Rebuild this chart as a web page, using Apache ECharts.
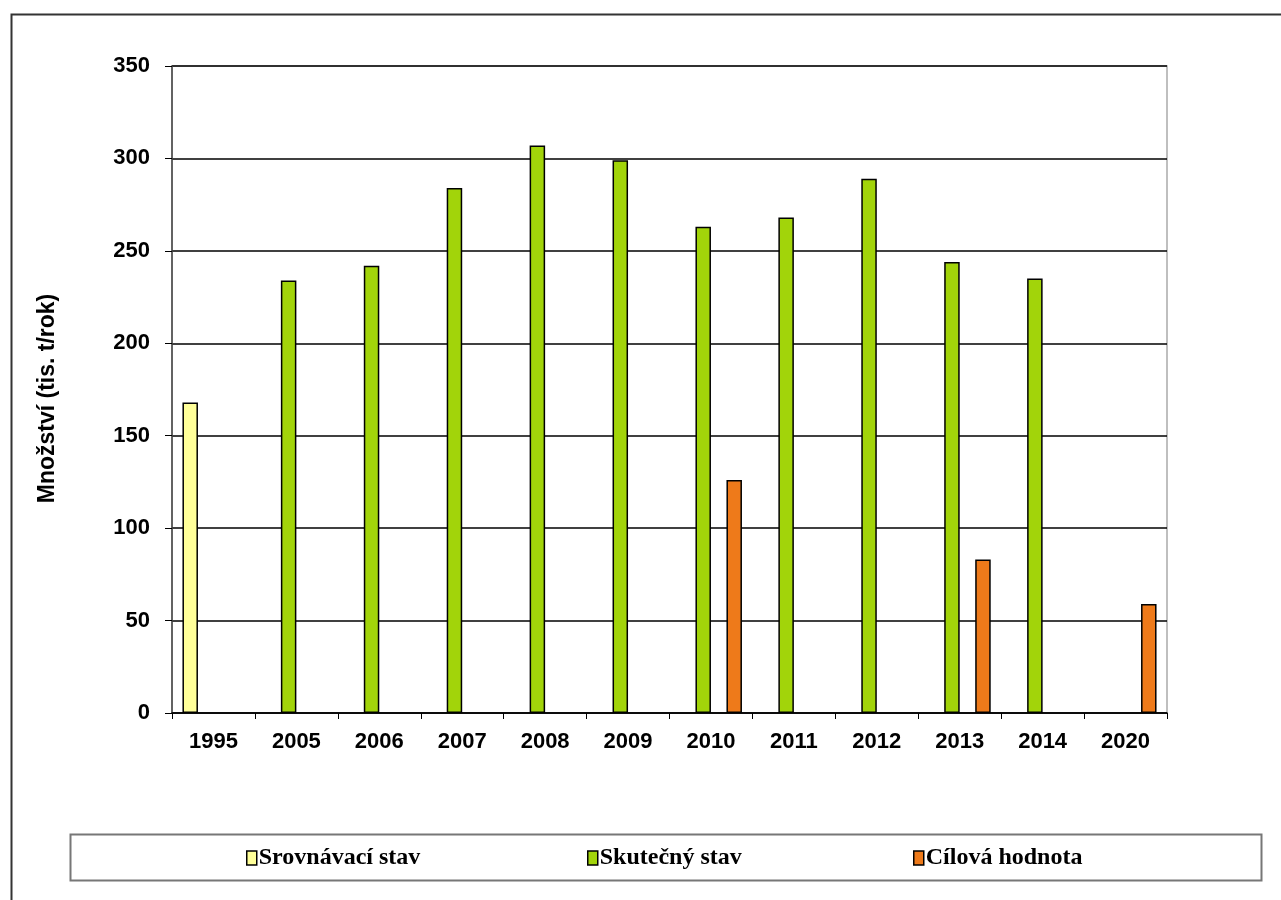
<!DOCTYPE html>
<html>
<head>
<meta charset="utf-8">
<script src="https://cdn.jsdelivr.net/npm/echarts@6/dist/echarts.min.js"></script>
<style>
html,body{margin:0;padding:0;background:#fff;}
#main{width:1281px;height:900px;}
</style>
</head>
<body>
<div id="main"></div>
<script>
const categories = ['1995','2005','2006','2007','2008','2009','2010','2011','2012','2013','2014','2020'];
const srovnavaci = [168,'-','-','-','-','-','-','-','-','-','-','-'];
const skutecny = ['-',234,242,284,307,299,263,268,289,244,235,'-'];
const prazdna = ['-','-','-','-','-','-','-','-','-','-','-','-'];
const cilova = ['-','-','-','-','-','-',126,'-','-',83,'-',59];
const yTicks = [0,50,100,150,200,250,300,350];

const chart = echarts.init(document.getElementById('main'), null, {renderer:'canvas'});
const barBorder = {borderColor:'#000', borderWidth:1.5};
const legendText = {fontFamily:'Liberation Serif', fontWeight:'bold', fontSize:24, color:'#000'};
function lg(name, left){
  return {data:[name], left:left, top:841, itemWidth:10, itemHeight:14, itemGap:0,
    icon:'rect', textStyle:Object.assign({padding:[0,0,0,-3]}, legendText), selectedMode:false,
    itemStyle:{borderColor:'#000', borderWidth:1.5}};
}
chart.setOption({
  animation:false,
  backgroundColor:'#fff',
  grid:{left:172, right:114, top:66, bottom:187, show:true, borderColor:'#aaa', borderWidth:1.5, backgroundColor:'transparent'},
  legend:[lg('Srovnávací stav',241), lg('Skutečný stav',582), lg('Cílová hodnota',908)],
  xAxis:{
    type:'category', data:categories, boundaryGap:true,
    axisLine:{lineStyle:{color:'#000', width:1.5}},
    axisTick:{show:true, alignWithLabel:false, length:6, lineStyle:{color:'#000', width:1}},
    axisLabel:{color:'#000', fontFamily:'Liberation Sans', fontWeight:'bold', fontSize:22, margin:18}
  },
  yAxis:{
    type:'value', min:0, max:350, interval:50,
    name:'Množství (tis. t/rok)', nameLocation:'middle', nameGap:113, nameRotate:90,
    nameTextStyle:{color:'#000', fontFamily:'Liberation Sans', fontWeight:'bold', fontSize:23, padding:[0,18,0,0]},
    axisLine:{show:true, lineStyle:{color:'#444', width:1.5}},
    axisTick:{show:true, length:7, lineStyle:{color:'#000', width:1}},
    axisLabel:{color:'#000', fontFamily:'Liberation Sans', fontWeight:'bold', fontSize:22, margin:22,
      formatter:function(v){return yTicks.indexOf(v)>=0 ? String(v) : '';}},
    splitLine:{show:true, lineStyle:{color:'#000', width:1.5}}
  },
  series:[
    {name:'Srovnávací stav', type:'bar', data:srovnavaci, barWidth:15.5, barGap:'0%', itemStyle:Object.assign({color:'#FFFF99'}, barBorder)},
    {name:'Skutečný stav', type:'bar', data:skutecny, barWidth:15.5, barGap:'0%', itemStyle:Object.assign({color:'#A2D40A'}, barBorder)},
    {name:'prazdna', type:'bar', data:prazdna, barWidth:15.5, barGap:'0%', itemStyle:Object.assign({color:'#ffffff'}, barBorder)},
    {name:'Cílová hodnota', type:'bar', data:cilova, barWidth:15.5, barGap:'0%', itemStyle:Object.assign({color:'#EE7A1A'}, barBorder)}
  ],
  graphic:[
    {type:'rect', left:9, top:12, shape:{width:1300, height:1000}, style:{fill:'none', stroke:'#333', lineWidth:2}, z:-1},
    {type:'rect', left:68, top:832, shape:{width:1191, height:46}, style:{fill:'none', stroke:'#777', lineWidth:2}, z:-1}
  ]
});
</script>
</body>
</html>
